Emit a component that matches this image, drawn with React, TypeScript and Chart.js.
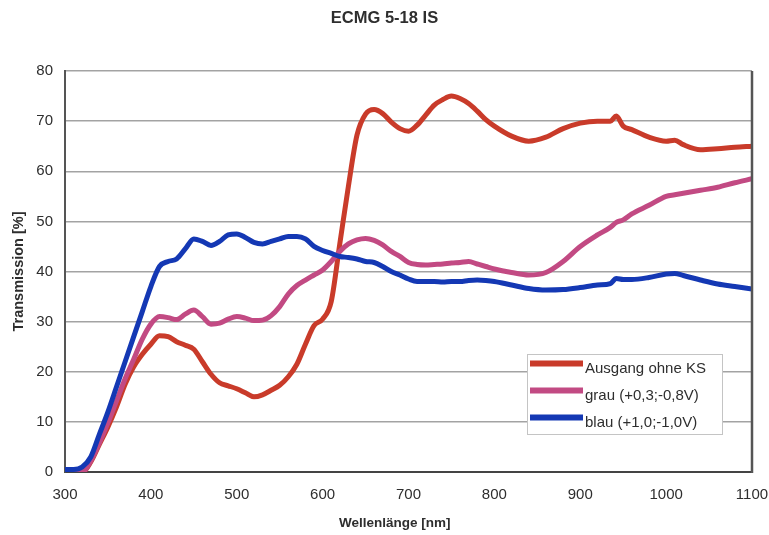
import { useEffect, useRef } from "react";
import { Chart, registerables } from "chart.js";

Chart.register(...registerables);

// Spectral transmission of the ECMG 5-18 IS sample, three drive states
const TITLE = "ECMG 5-18 IS";
const X_TITLE = "Wellenlänge [nm]";
const Y_TITLE = "Transmission [%]";
const SERIES_NAMES = ["Ausgang ohne KS", "grau (+0,3;-0,8V)", "blau (+1,0;-1,0V)"];
const SERIES_COLORS = ["#c93b2a", "#c24a83", "#1438b4"];

const WAVELENGTH = [
  300, 310, 320, 330, 340, 350, 360, 370, 380, 390,
  400, 410, 420, 430, 440, 450, 460, 470, 480, 490,
  500, 510, 520, 530, 540, 550, 560, 570, 580, 590,
  600, 610, 620, 630, 640, 650, 660, 670, 680, 690,
  700, 710, 720, 730, 740, 750, 760, 770, 780, 790,
  800, 820, 840, 860, 880, 900, 920, 935, 942, 950,
  960, 980, 1000, 1010, 1020, 1040, 1060, 1080, 1100,
];

const AUSGANG = [
  0, 0, 0, 2, 5.5, 9, 13, 17.5, 21, 23.5,
  25.5, 27.2, 27, 26, 25.3, 24.5, 22, 19.5, 17.8, 17.2,
  16.6, 15.8, 15, 15.4, 16.3, 17.3, 19, 21.5, 25.5, 29.2,
  30.5, 34, 45.5, 57, 67.2, 71.4, 72.3, 71.5, 69.8, 68.5,
  68, 69.2, 71.2, 73.2, 74.3, 75, 74.5, 73.5, 72, 70.3,
  69, 67, 66, 66.8, 68.5, 69.6, 70, 70, 71, 69,
  68.3, 66.8, 66, 66.2, 65.3, 64.3, 64.5, 64.8, 65,
];

const GRAU = [
  0, 0, 0, 2.2, 5.8, 9.8, 14.2, 18.6, 22.5, 26.5,
  29.5, 31, 30.8, 30.4, 31.5, 32.3, 31, 29.5, 29.7, 30.5,
  31, 30.7, 30.2, 30.3, 31.2, 33, 35.5, 37.2, 38.3, 39.3,
  40.3, 42, 44, 45.5, 46.3, 46.6, 46.2, 45.3, 44, 43,
  41.8, 41.4, 41.3, 41.4, 41.5, 41.7, 41.8, 42, 41.5, 41,
  40.5, 39.8, 39.3, 39.8, 42, 45, 47.3, 48.8, 49.8, 50.3,
  51.5, 53.2, 55, 55.3, 55.6, 56.2, 56.8, 57.7, 58.5,
];

const BLAU = [
  0.5, 0.5, 1, 3, 7.5, 12, 17, 22, 27, 32,
  37, 41, 42, 42.5, 44.5, 46.5, 46, 45.2, 46, 47.3,
  47.5, 46.8, 45.8, 45.5, 46, 46.5, 47, 47, 46.5, 45,
  44.2, 43.6, 43, 42.8, 42.5, 42, 41.8, 41, 40, 39.3,
  38.5, 38, 38, 38, 37.9, 38, 38, 38.2, 38.3, 38.2,
  38, 37.3, 36.6, 36.3, 36.4, 36.8, 37.3, 37.6, 38.6, 38.4,
  38.4, 38.8, 39.5, 39.6, 39.2, 38.3, 37.5, 37, 36.5,
];

const X_MIN = 300;
const X_MAX = 1100;
const X_STEP = 100;
const Y_MIN = 0;
const Y_MAX = 80;
const Y_STEP = 10;

const FONT = "'Liberation Sans', Arial, Helvetica, sans-serif";
const TEXT = "#2e2e2e";

// Right frame edge, x-axis caption and the boxed legend inside the plot
const plotExtras = {
  id: "plotExtras",
  afterDraw(chart: any) {
    const { ctx, chartArea: a } = chart;
    ctx.save();

    ctx.strokeStyle = "#555";
    ctx.lineWidth = 2.5;
    ctx.beginPath();
    ctx.moveTo(a.right, a.top);
    ctx.lineTo(a.right, a.bottom + 1);
    ctx.stroke();

    ctx.font = `bold 13.5px ${FONT}`;
    ctx.fillStyle = TEXT;
    ctx.textAlign = "center";
    ctx.textBaseline = "middle";
    ctx.fillText(X_TITLE, a.left + (a.right - a.left) * 0.48, a.bottom + 51);

    const bx = a.right - 225;
    const by = a.top + 283;
    const bw = 195;
    const bh = 80;
    ctx.fillStyle = "#ffffff";
    ctx.fillRect(bx, by, bw, bh);
    ctx.strokeStyle = "#c4c4c4";
    ctx.lineWidth = 1;
    ctx.strokeRect(bx + 0.5, by + 0.5, bw, bh);

    ctx.font = `15px ${FONT}`;
    ctx.textAlign = "left";
    SERIES_NAMES.forEach((name, i) => {
      const ly = by + 9.5 + i * 27;
      ctx.strokeStyle = SERIES_COLORS[i];
      ctx.lineWidth = 6;
      ctx.lineCap = "butt";
      ctx.beginPath();
      ctx.moveTo(bx + 3, ly);
      ctx.lineTo(bx + 56, ly);
      ctx.stroke();
      ctx.fillStyle = TEXT;
      ctx.fillText(name, bx + 58, ly + 5);
    });

    ctx.restore();
  },
};

export default function App() {
  const canvasRef = useRef<HTMLCanvasElement | null>(null);

  useEffect(() => {
    const canvas = canvasRef.current;
    if (!canvas) return;

    const seriesValues = [AUSGANG, GRAU, BLAU];
    const datasets = seriesValues.map((values, i) => ({
      label: SERIES_NAMES[i],
      data: WAVELENGTH.map((x, j) => ({ x, y: values[j] })),
      borderColor: SERIES_COLORS[i],
      backgroundColor: SERIES_COLORS[i],
      borderWidth: 5,
      pointRadius: 0,
      tension: 0.4,
      cubicInterpolationMode: "monotone" as const,
      borderJoinStyle: "round" as const,
      borderCapStyle: "round" as const,
      fill: false,
      order: seriesValues.length - i,
    }));

    const chart = new Chart(canvas, {
      type: "line",
      data: { datasets },
      plugins: [plotExtras],
      options: {
        animation: false,
        responsive: false,
        maintainAspectRatio: false,
        layout: { padding: { left: 0, right: 0, top: 0, bottom: 0 } },
        plugins: {
          legend: { display: false },
          tooltip: { enabled: false },
          title: {
            display: true,
            text: TITLE,
            color: TEXT,
            font: { family: FONT, size: 16.5, weight: "bold" },
            padding: { top: 9, bottom: 42.2 },
          },
        },
        scales: {
          x: {
            type: "linear",
            min: X_MIN,
            max: X_MAX,
            grid: { display: false, drawTicks: false },
            border: { display: true, color: "#444", width: 2 },
            ticks: {
              stepSize: X_STEP,
              padding: 14,
              color: TEXT,
              font: { family: FONT, size: 15 },
              maxRotation: 0,
              callback: (v: any) => String(v),
            },
            afterFit(scale: any) {
              scale.height = 63;
              scale.paddingLeft = 0;
              scale.paddingRight = 17;
            },
          },
          y: {
            type: "linear",
            min: Y_MIN,
            max: Y_MAX,
            grid: { color: "#a3a3a3", lineWidth: 1.5, drawTicks: false },
            border: { display: true, color: "#555", width: 2 },
            ticks: {
              stepSize: Y_STEP,
              padding: 12,
              color: TEXT,
              font: { family: FONT, size: 15 },
              callback: (v: any) => String(v),
            },
            title: {
              display: true,
              text: Y_TITLE,
              color: TEXT,
              font: { family: FONT, size: 14.5, weight: "bold" },
              padding: { top: 10.5, bottom: 0 },
            },
            afterFit(scale: any) {
              scale.width = 65;
            },
          },
        },
      },
    });

    return () => chart.destroy();
  }, []);

  return (
    <div style={{ position: "fixed", left: 0, top: 0, width: 769, height: 535, background: "#fff" }}>
      <canvas ref={canvasRef} width={769} height={535} style={{ display: "block" }} />
    </div>
  );
}
